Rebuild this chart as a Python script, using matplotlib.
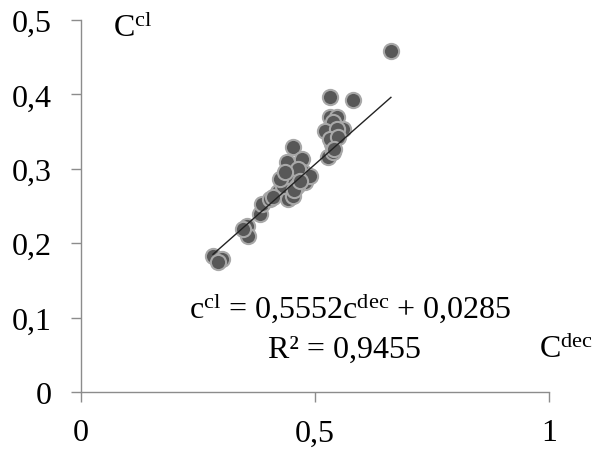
import matplotlib; matplotlib.use("Agg")
import matplotlib.pyplot as plt
import numpy as np

# points (C_dec, C_cl)
c_dec = [0.282, 0.301, 0.293, 0.354, 0.357, 0.346, 0.382, 0.386, 0.404, 0.421,
         0.442, 0.453, 0.432, 0.440, 0.447, 0.440, 0.453, 0.472, 0.474, 0.479,
         0.489, 0.461, 0.425, 0.464, 0.532, 0.581, 0.532, 0.547, 0.538, 0.521,
         0.560, 0.547, 0.536, 0.528, 0.538, 0.532, 0.549, 0.662, 0.410, 0.456,
         0.468, 0.436, 0.541]
c_cl = [0.183, 0.179, 0.175, 0.223, 0.210, 0.219, 0.239, 0.253, 0.259, 0.269,
        0.259, 0.264, 0.277, 0.290, 0.304, 0.309, 0.329, 0.313, 0.296, 0.282,
        0.290, 0.277, 0.286, 0.300, 0.396, 0.392, 0.370, 0.370, 0.363, 0.351,
        0.354, 0.354, 0.333, 0.316, 0.323, 0.340, 0.343, 0.458, 0.262, 0.272,
        0.284, 0.296, 0.327]
slope, icpt = 0.5552, 0.0285
xticks = [0, 0.5, 1]
xtick_labels = ["0", "0,5", "1"]
yticks = [0, 0.1, 0.2, 0.3, 0.4, 0.5]
ytick_labels = ["0", "0,1", "0,2", "0,3", "0,4", "0,5"]

plt.rcParams.update({"font.family": "Liberation Serif", "mathtext.fontset": "custom",
                     "mathtext.rm": "Liberation Serif", "mathtext.it": "Liberation Serif"})
AX = "#8c8c8c"
FS = 23
fig = plt.figure(figsize=(5.95, 4.52), dpi=100)
ax = fig.add_axes([0.136, 0.1305, 0.787, 0.823])

ax.scatter(c_dec, c_cl, s=120, c="#585858", edgecolors="#a8a8a8", linewidths=1.5, zorder=2)
xl = np.array([min(c_dec), max(c_dec)])
ax.plot(xl, slope*xl + icpt, color="#222222", lw=1.0, zorder=3)

ax.set_xlim(0, 1); ax.set_ylim(0, 0.5)
ax.set_xticks(xticks, xtick_labels); ax.set_yticks(yticks, ytick_labels)
for s in ("top", "right"): ax.spines[s].set_visible(False)
for s in ("left", "bottom"): ax.spines[s].set_color(AX); ax.spines[s].set_linewidth(1.0)
ax.tick_params(colors=AX, labelcolor="black", labelsize=FS, length=7, width=1.0)
ax.tick_params(axis="x", pad=12)
ax.tick_params(axis="y", pad=14)

ax.text(0.068, 0.478, r"C$^{\mathrm{cl}}$", fontsize=FS, va="baseline", ha="left")
ax.text(1.094, 0.047, r"C$^{\mathrm{dec}}$", fontsize=FS, va="baseline", ha="right")
ax.text(0.575, 0.101, r"c$^{\mathrm{cl}}$ = 0,5552c$^{\mathrm{dec}}$ + 0,0285", fontsize=FS,
        va="baseline", ha="center")
ax.text(0.562, 0.047, "R² = 0,9455", fontsize=FS, va="baseline", ha="center")

fig.savefig("out.png", dpi=100)
